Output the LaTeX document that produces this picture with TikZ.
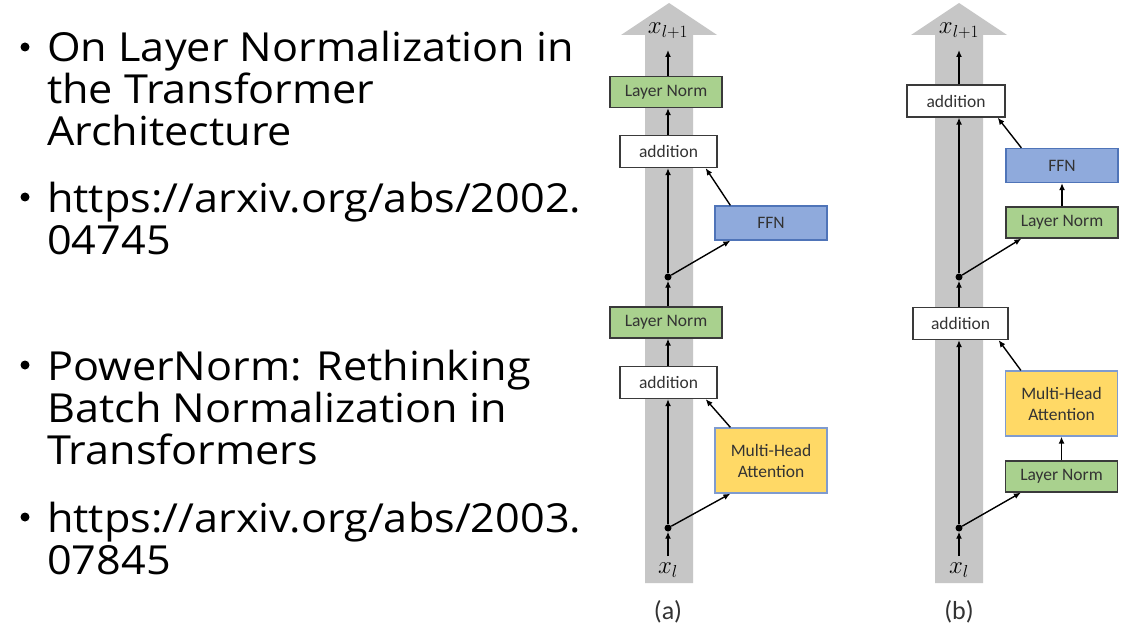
\documentclass[tikz,border=0pt]{standalone}
\usepackage{fontspec}
\setmainfont[FakeStretch=1.08]{Open Sans}
\newfontfamily\boxfont{Carlito}
\usetikzlibrary{arrows.meta,calc}
\definecolor{colgray}{HTML}{C6C6C6}
\definecolor{lngreen}{HTML}{A9D18E}
\definecolor{ffnblue}{HTML}{8FAADC}
\definecolor{ffnedge}{HTML}{4F74B8}
\definecolor{mhayellow}{HTML}{FFD966}
\definecolor{mhaedge}{HTML}{7F9BCF}
\definecolor{boxedge}{HTML}{3A3A3A}
\definecolor{boxtext}{HTML}{333333}
\begin{document}
\begin{tikzpicture}[x=1pt,y=-1pt,
  bodytext/.style={anchor=base west,inner sep=0pt,font=\fontsize{40}{42}\selectfont,text=black},
  bulletmark/.style={circle,fill=black,inner sep=0pt,minimum size=9pt},
  blk/.style={draw=boxedge,line width=1.3pt,inner sep=0pt,font=\boxfont\fontsize{17.5}{21}\selectfont,text=boxtext,align=center},
  lnbox/.style={blk,fill=lngreen,minimum width=112pt,minimum height=31pt},
  addbox/.style={blk,fill=white,minimum height=32pt},
  ffnbox/.style={blk,draw=ffnedge,fill=ffnblue,minimum width=112pt,minimum height=34pt},
  mhabox/.style={blk,draw=mhaedge,fill=mhayellow,minimum width=112pt,minimum height=65pt},
  junction/.style={circle,fill=black,inner sep=0pt,minimum size=7pt},
  flow/.style={line width=1.4pt,-{Latex[length=7pt,width=6pt]}},
  mlabel/.style={inner sep=0pt,font=\fontsize{27}{30}\selectfont},
  caption/.style={inner sep=0pt,font=\boxfont\fontsize{26}{30}\selectfont,text=boxtext}
]
\useasboundingbox (0,0) rectangle (1145,639);
\fill[white] (0,0) rectangle (1145,639);

% ---------- left text ----------
\node[bulletmark] (u1) at (25,47) {};
\node[bodytext] (t1a) at (47,62) {On Layer Normalization in};
\node[bodytext] (t1b) at (47,104) {the Transformer};
\node[bodytext] (t1c) at (47,146) {Architecture};
\node[bulletmark] (u2) at (25,197) {};
\node[bodytext] (t2a) at (47,212) {https://arxiv.org/abs/2002.};
\node[bodytext] (t2b) at (47,254) {04745};
\node[bulletmark] (u3) at (25,365) {};
\node[bodytext] (t3a) at (47,380) {PowerNorm: Rethinking};
\node[bodytext] (t3b) at (47,422) {Batch Normalization in};
\node[bodytext] (t3c) at (47,464) {Transformers};
\node[bulletmark] (u4) at (25,517) {};
\node[bodytext] (t4a) at (47,532) {https://arxiv.org/abs/2003.};
\node[bodytext] (t4b) at (47,574) {07845};

% ---------- gray highways ----------
\fill[colgray] (645,583) -- (645,35) -- (621,35) -- (669,3) -- (717,35) -- (693,35) -- (693,583) -- cycle;
\fill[colgray] (935,583) -- (935,35) -- (911,35) -- (959,3) -- (1007,35) -- (983,35) -- (983,583) -- cycle;

% ---------- diagram (a) ----------
\node[mlabel] (xla) at (668,570) {$x_l$};
\node[mlabel] (xoa) at (668,31) {$x_{l+1}$};
\coordinate (xoaend) at (668,50);
\coordinate (xlastart) at (668,556);
\node[junction] (ja1) at (668,528) {};
\node[mhabox] (mhaa) at (771,460.5) {Multi-Head\\Attention};
\node[addbox,minimum width=97pt] (adda1) at (668.5,382.5) {addition};
\node[lnbox] (lna1) at (666,322.5) {Layer Norm};
\node[junction] (ja2) at (668,277) {};
\node[ffnbox] (ffna) at (771,223) {FFN};
\node[addbox,minimum width=97pt] (adda2) at (668.5,151.5) {addition};
\node[lnbox] (lna2) at (666,92) {Layer Norm};
\node[caption] (capa) at (668,612) {(a)};

\draw[flow] (xlastart) -- (ja1.south);
\draw[flow] (ja1) -- (adda1.south -| ja1);
\draw[flow] (ja1) -- ($(mhaa.south west)+(16,0)$);
\draw[flow] ($(mhaa.north west)+(16,0)$) -- ($(adda1.south east)+(-12,0)$);
\draw[flow] (adda1.north -| ja1) -- (lna1.south -| ja1);
\draw[flow] (lna1.north -| ja2) -- (ja2.south);
\draw[flow] (ja2) -- (adda2.south -| ja2);
\draw[flow] (ja2) -- ($(ffna.south west)+(16,0)$);
\draw[flow] ($(ffna.north west)+(16,0)$) -- ($(adda2.south east)+(-12,0)$);
\draw[flow] (adda2.north -| ja2) -- (lna2.south -| ja2);
\draw[flow] (lna2.north -| ja2) -- (xoaend);

% ---------- diagram (b) ----------
\node[mlabel] (xlb) at (959,570) {$x_l$};
\node[mlabel] (xob) at (959,31) {$x_{l+1}$};
\coordinate (xobend) at (959,50);
\coordinate (xlbstart) at (959,556);
\node[junction] (jb1) at (959,528) {};
\node[lnbox] (lnb1) at (1061.5,476.5) {Layer Norm};
\node[mhabox] (mhab) at (1061.5,403.5) {Multi-Head\\Attention};
\node[addbox,minimum width=95pt] (addb1) at (960.5,323.5) {addition};
\node[junction] (jb2) at (959,277) {};
\node[lnbox] (lnb2) at (1062,222.5) {Layer Norm};
\node[ffnbox] (ffnb) at (1062,165.5) {FFN};
\node[addbox,minimum width=98pt] (addb2) at (956,101) {addition};
\node[caption] (capb) at (959,612) {(b)};

\draw[flow] (xlbstart) -- (jb1.south);
\draw[flow] (jb1) -- (addb1.south -| jb1);
\draw[flow] (jb1) -- ($(lnb1.south west)+(16,0)$);
\draw[flow] (lnb1.north) -- (mhab.south);
\draw[flow] ($(mhab.north west)+(16,0)$) -- ($(addb1.south east)+(-10,0)$);
\draw[flow] (addb1.north -| jb2) -- (jb2.south);
\draw[flow] (jb2) -- (addb2.south -| jb2);
\draw[flow] (jb2) -- ($(lnb2.south west)+(16,0)$);
\draw[flow] (lnb2.north) -- (ffnb.south);
\draw[flow] ($(ffnb.north west)+(16,0)$) -- ($(addb2.south east)+(-8,0)$);
\draw[flow] (addb2.north -| jb2) -- (xobend);
\end{tikzpicture}
\end{document}
